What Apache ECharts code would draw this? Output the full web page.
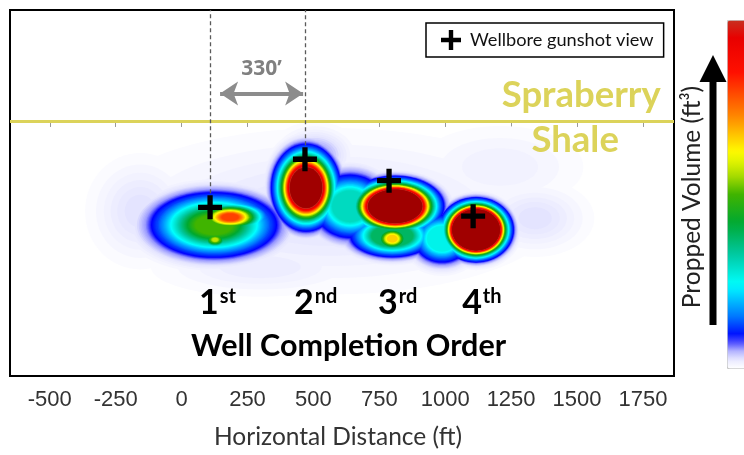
<!DOCTYPE html>
<html><head><meta charset="utf-8">
<script src="https://cdn.jsdelivr.net/npm/echarts@6/dist/echarts.min.js"></script>
<style>html,body{margin:0;padding:0;background:#fff}#c{width:744px;height:455px}</style>
</head><body><div id="c"></div>
<script>
// ---------------- data ----------------
const xTicks = [-500, -250, 0, 250, 500, 750, 1000, 1250, 1500, 1750];
const xRange = [-651, 1868];          // horizontal distance extent (ft)
const yRange = [-986, 429];           // vertical distance from the Spraberry/Shale boundary (ft)
const boundaryDepth = 0;

// wellbore gunshot positions (ft)
const wellX = [108, 468, 787, 1106];
const wellY = [-334, -148, -231, -368];
const rankNum = ['1', '2', '3', '4'];
const rankSuffix = ['st', 'nd', 'rd', 'th'];
const rankLabelY = -705;
const dashedWells = [0, 1];

// well spacing annotation
const spacingLabel = '330\u2019';
const spacingFrom = 146, spacingTo = 461, spacingY = 106;

// formation labels
const formationNames = ['Spraberry', 'Shale'];
const formationLabelX = [1516, 1493];
const formationLabelY = [99, -76];

// propped-volume clusters (gaussian): centre (ft), sigma (ft), peak and cap (relative volume, 1 = colour-bar max)
const blobX      = [563, 506, 1341, -157, 298, 1208, 123, 184, 127, 639, 799, 988, 472, 810, 799, 1117];
const blobY      = [-349, -133, -376, -349, -565, -178, -402, -372, -459, -330, -444, -455, -258, -330, -455, -421];
const blobSigmaX = [444, 76, 114, 106, 231, 190, 123, 71, 30, 76, 81, 61, 53, 70, 38, 50];
const blobSigmaY = [163, 57, 76, 114, 64, 95, 65, 30, 19, 68, 42, 53, 68, 44, 27, 44];
const blobPeak   = [0.035, 0.07, 0.035, 0.035, 0.025, 0.02, 0.594, 0.884, 0.6, 0.45, 0.616, 0.4, 2.01, 3.05, 0.75, 5.3];
const blobCap    = [9, 9, 9, 9, 9, 9, 0.5, 0.8, 0.57, 0.3, 0.38, 0.26, 9, 9, 0.66, 9];

// ---------------- styling ----------------
const colorStops = [
  [0.00, '#ffffff'], [0.03, '#e4e4ff'], [0.06, '#9a9aff'], [0.09, '#0000ff'],
  [0.15, '#0078ff'], [0.24, '#00ffff'], [0.33, '#00c8a0'], [0.42, '#00a830'],
  [0.50, '#40b400'], [0.56, '#b4e000'], [0.62, '#ffff00'], [0.72, '#ff8c00'],
  [0.85, '#ff1000'], [0.95, '#e80000'], [1.00, '#c83020'], [1.05, '#a00000']
];
function hex(c) { return [parseInt(c.slice(1,3),16), parseInt(c.slice(3,5),16), parseInt(c.slice(5,7),16)]; }
function jet(v) {
  if (v <= colorStops[0][0]) return colorStops[0][1];
  for (let i = 1; i < colorStops.length; i++) {
    if (v <= colorStops[i][0]) {
      const a = colorStops[i-1], b = colorStops[i];
      const t = (v - a[0]) / (b[0] - a[0]);
      const ca = hex(a[1]), cb = hex(b[1]);
      return 'rgb(' + ca.map((x, k) => Math.round(x + (cb[k] - x) * t)).join(',') + ')';
    }
  }
  return colorStops[colorStops.length-1][1];
}
const levels = [];
for (let i = 1; i <= 24; i++) levels.push(+(i * 0.005).toFixed(3));
for (let i = 13; i <= 106; i++) levels.push(+(i * 0.01).toFixed(2));
const levelColors = levels.map(jet);
const barColors = [];
for (let i = 0; i <= 40; i++) barColors.push(jet(i / 40));

const yellow = '#dcd35a';
const crossPath = 'path://M3.9,0 H6.1 V3.9 H10 V6.1 H6.1 V10 H3.9 V6.1 H0 V3.9 H3.9 Z';

// filled iso-volume contours of each gaussian cluster; z2 = level keeps the highest value on top
function renderBlob(params, api) {
  const c = api.coord([api.value(0), api.value(1)]);
  const s = api.size([api.value(2), api.value(3)], [api.value(0), api.value(1)]);
  const peak = api.value(4), cap = api.value(5);
  const top = Math.min(peak, cap);
  const children = [];
  levels.forEach((L, i) => {
    if (L > top + 1e-9 || L >= peak) return;
    const f = Math.sqrt(2 * Math.log(peak / L));
    children.push({
      type: 'ellipse', z2: i, silent: true,
      shape: { cx: c[0], cy: c[1], rx: s[0] * f, ry: s[1] * f },
      style: { fill: levelColors[i] }
    });
  });
  return { type: 'group', children };
}

const chart = echarts.init(document.getElementById('c'), null, { renderer: 'canvas' });
chart.setOption({
  animation: false,
  backgroundColor: '#fff',
  title: {
    text: 'Well Completion Order', left: 191, top: 331, padding: 0,
    textStyle: { fontFamily: 'Lato', fontWeight: 'bold', fontSize: 30.5, color: '#000' }
  },
  legend: {
    data: ['Wellbore gunshot view'], left: 426, top: 23, padding: [7, 10, 7, 15],
    itemWidth: 20, itemHeight: 20, selectedMode: false,
    borderColor: '#000', borderWidth: 1.5,
    textStyle: { fontFamily: 'Lato', fontSize: 18.2, color: '#111', padding: [0, 0, 0, 4] }
  },
  grid: { left: 10, right: 70, top: 10, bottom: 72, show: true, borderColor: '#000', borderWidth: 2, backgroundColor: 'transparent' },
  xAxis: {
    type: 'value', min: xRange[0], max: xRange[1],
    name: 'Horizontal Distance (ft)', nameLocation: 'middle', nameGap: 49,
    nameTextStyle: { fontFamily: 'Lato', fontSize: 24.5, color: '#333', padding: [0, 8, 0, 0] },
    axisLine: { show: false },
    axisTick: { show: true, length: 6, customValues: xTicks, lineStyle: { color: '#999', width: 1 } },
    axisLabel: { customValues: xTicks, margin: 13, fontFamily: 'Liberation Sans', fontSize: 22, color: '#333',
      formatter: (v) => String(v) },
    splitLine: { show: false }
  },
  yAxis: { type: 'value', min: yRange[0], max: yRange[1], show: false, splitLine: { show: false } },
  visualMap: {
    type: 'continuous', min: 0, max: 1, seriesIndex: [], calculable: false, hoverLink: false,
    orient: 'vertical', left: 727, top: 20, itemWidth: 20, itemHeight: 348, padding: 0,
    inRange: { color: barColors }, borderColor: '#c8c8c8', borderWidth: 1
  },
  graphic: [
    { type: 'rect', shape: { x: 709.5, y: 80, width: 7, height: 245 }, style: { fill: '#000' } },
    { type: 'polygon', shape: { points: [[699.5, 82], [726.5, 82], [713, 55]] }, style: { fill: '#000' } },
    { type: 'text', x: 692, y: 197, rotation: Math.PI / 2,
      style: { text: 'Propped Volume (ft\u00b3)', fontFamily: 'Lato', fontSize: 24.5, fill: '#222', align: 'center', verticalAlign: 'middle' } }
  ],
  series: [
    {
      type: 'custom', name: 'Propped volume', z: 1, silent: true, clip: true,
      renderItem: renderBlob, encode: { x: 0, y: 1 },
      data: blobX.map((x, i) => [x, blobY[i], blobSigmaX[i], blobSigmaY[i], blobPeak[i], blobCap[i]])
    },
    {
      type: 'scatter', name: 'formation', z: 3, silent: true, symbolSize: 0, itemStyle: { opacity: 1 },
      data: formationNames.map((n, i) => ({ name: n, value: [formationLabelX[i], formationLabelY[i]] })),
      label: { show: true, position: 'inside', formatter: '{b}', fontFamily: 'Lato', fontWeight: 'bold', fontSize: 36.5, color: yellow },
      markLine: { silent: true, symbol: 'none', label: { show: false },
        lineStyle: { color: yellow, width: 3, type: 'solid', opacity: 1 }, data: [{ yAxis: boundaryDepth }] }
    },
    {
      type: 'scatter', name: 'rank', z: 4, silent: true, symbolSize: 0, itemStyle: { opacity: 1 },
      data: wellX.map((x) => [x, rankLabelY]),
      label: {
        show: true, position: 'inside', align: 'left', offset: [-11, 0], color: '#000', textBorderWidth: 0,
        fontFamily: 'Lato', fontWeight: 'bold', fontSize: 34,
        formatter: (p) => '{n|' + rankNum[p.dataIndex] + '}{s|' + rankSuffix[p.dataIndex] + '}',
        rich: {
          n: { fontFamily: 'Lato', fontWeight: 'bold', fontSize: 34, color: '#000', textBorderWidth: 0, verticalAlign: 'bottom' },
          s: { fontFamily: 'Lato', fontWeight: 'bold', fontSize: 20, color: '#000', textBorderWidth: 0, verticalAlign: 'top', padding: [0, 0, 0, 1] }
        }
      },
      markLine: {
        silent: true, symbol: ['arrow', 'arrow'], symbolSize: [18, 18],
        lineStyle: { color: '#8c8c8c', width: 4, type: 'solid', opacity: 1 },
        label: { show: true, position: 'middle', formatter: spacingLabel, distance: 14,
          fontFamily: 'Open Sans', fontWeight: 'bold', fontSize: 21, color: '#808080' },
        data: [[{ coord: [spacingFrom, spacingY] }, { coord: [spacingTo, spacingY] }]]
      }
    },
    {
      type: 'scatter', name: 'Wellbore gunshot view', z: 6, silent: true,
      symbol: crossPath, symbolSize: 24, itemStyle: { color: '#000', opacity: 1 },
      data: wellX.map((x, i) => [x, wellY[i]]),
      markLine: {
        silent: true, symbol: 'none', label: { show: false },
        lineStyle: { color: '#5a5a5a', width: 1.3, type: [4, 3], opacity: 1 },
        data: dashedWells.map((i) => [{ coord: [wellX[i], wellY[i]] }, { coord: [wellX[i], yRange[1]] }])
      }
    }
  ]
});
</script></body></html>
